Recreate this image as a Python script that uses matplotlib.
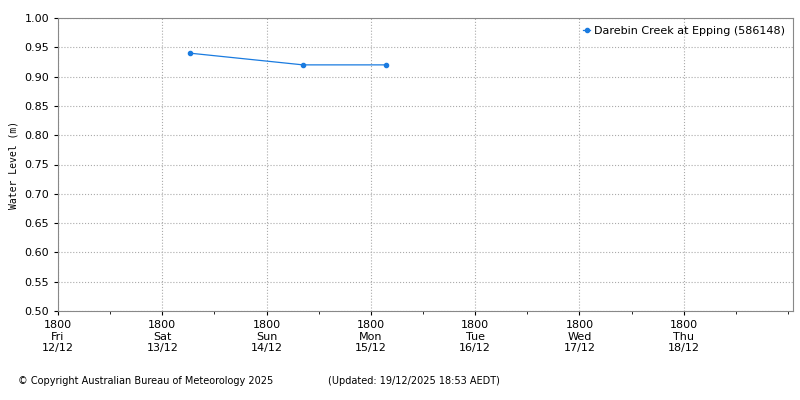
import matplotlib
matplotlib.use("Agg")
import matplotlib.pyplot as plt
from matplotlib.ticker import MultipleLocator

# days since Fri 12/12 18:00
times = [1.265, 2.35, 3.145]
levels = [0.94, 0.92, 0.92]
tick_labels = ["1800\nFri\n12/12", "1800\nSat\n13/12", "1800\nSun\n14/12", "1800\nMon\n15/12",
               "1800\nTue\n16/12", "1800\nWed\n17/12", "1800\nThu\n18/12"]
series_name = "Darebin Creek at Epping (586148)"

fig = plt.figure(figsize=(8, 4), dpi=100)
ax = fig.add_axes([0.0725, 0.2225, 0.919, 0.7325])
ax.plot(times, levels, color="#1a7be0", lw=0.9, marker="o", ms=3, label=series_name)
ax.set_xlim(0, 7.05)
ax.set_ylim(0.5, 1.0)
ax.set_xticks(range(7))
ax.set_xticklabels(tick_labels, fontsize=8)
ax.xaxis.set_minor_locator(MultipleLocator(0.5))
ax.yaxis.set_major_locator(MultipleLocator(0.05))
ax.yaxis.set_major_formatter(matplotlib.ticker.FormatStrFormatter("%.2f"))
ax.tick_params(axis="y", labelsize=8)
ax.tick_params(direction="out", length=3)
ax.grid(True, which="major", ls=":", color="#aaaaaa", lw=0.8)
for s in ax.spines.values():
    s.set_color("#888888")
ax.set_ylabel("Water Level (m)", fontsize=7, family="DejaVu Sans Mono")
ax.legend(loc="upper right", fontsize=8, frameon=False, handlelength=0.6, handletextpad=0.4, borderaxespad=0.3)
fig.text(0.022, 0.04, "© Copyright Australian Bureau of Meteorology 2025", fontsize=7)
fig.text(0.41, 0.04, "(Updated: 19/12/2025 18:53 AEDT)", fontsize=7)
fig.savefig("out.png", dpi=100)
